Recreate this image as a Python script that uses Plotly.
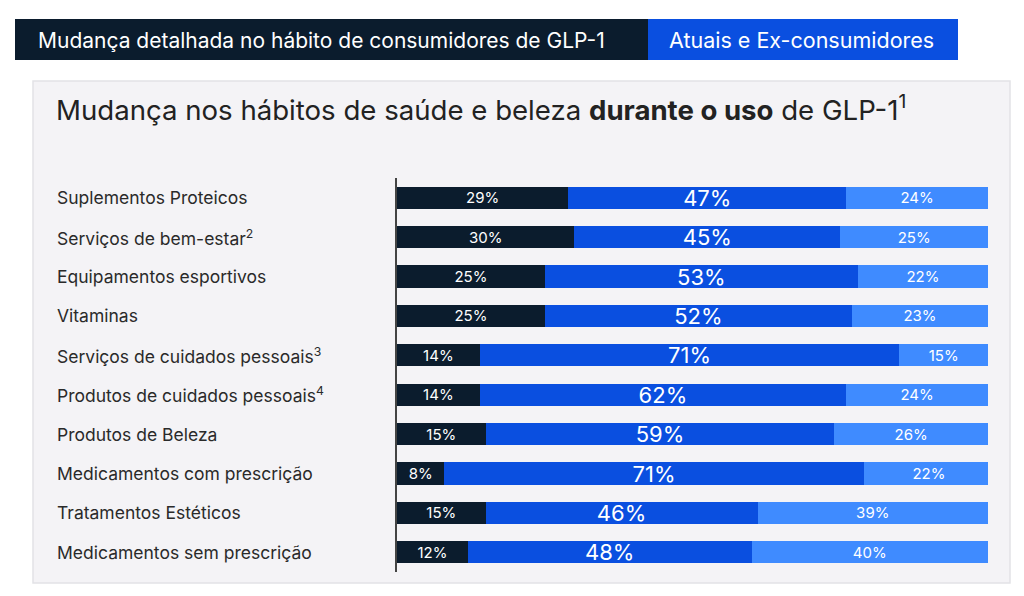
import plotly.graph_objects as go

categories = [
    "Suplementos Proteicos",
    "Serviços de bem-estar<sup>2</sup>",
    "Equipamentos esportivos",
    "Vitaminas",
    "Serviços de cuidados pessoais<sup>3</sup>",
    "Produtos de cuidados pessoais<sup>4</sup>",
    "Produtos de Beleza",
    "Medicamentos com prescrição",
    "Tratamentos Estéticos",
    "Medicamentos sem prescrição",
]
seg1 = [29, 30, 25, 25, 14, 14, 15, 8, 15, 12]
seg2 = [47, 45, 53, 52, 71, 62, 59, 71, 46, 48]
seg3 = [24, 25, 22, 23, 15, 24, 26, 22, 39, 40]
ycats = list(range(len(categories)))

W, H = 1024, 596
OFF = 8  # page body margin
FONT = "Inter, Noto Sans, sans-serif"

def px_x(p):
    return (p - OFF) / W

def px_y(p):
    return 1 - (p - OFF) / H

fig = go.Figure()
colors = ["#0b1c2d", "#0a4fe0", "#3f8bff"]
sizes = [15, 22, 15]
for vals, col, sz in zip([seg1, seg2, seg3], colors, sizes):
    fig.add_trace(go.Bar(
        y=ycats, x=vals, orientation="h",
        marker=dict(color=col, line=dict(width=0)),
        width=0.56,
        text=[f"{v}%" for v in vals],
        textposition="inside", insidetextanchor="middle",
        textfont=dict(color="white", size=sz, family=FONT),
        constraintext="none",
        hoverinfo="skip",
    ))

fig.update_layout(
    barmode="stack",
    width=W, height=H,
    margin=dict(l=0, r=0, t=0, b=0),
    paper_bgcolor="white",
    plot_bgcolor="#f4f3f6",
    showlegend=False,
    font=dict(family=FONT),
    xaxis=dict(domain=[px_x(397), px_x(988)], range=[0, 100], visible=False,
               fixedrange=True),
    yaxis=dict(domain=[px_y(572), px_y(178)], range=[9.5, -0.5],
               showticklabels=False, showgrid=False, zeroline=False,
               showline=True, linecolor="#444", linewidth=1.5),
    shapes=[
        dict(type="rect", xref="paper", yref="paper", layer="below",
             x0=px_x(33), x1=px_x(1010), y0=px_y(583), y1=px_y(81),
             fillcolor="#f4f3f6", line=dict(color="#e2e2e6", width=1.5)),
        dict(type="rect", xref="paper", yref="paper",
             x0=px_x(15), x1=px_x(648), y0=px_y(60), y1=px_y(19),
             fillcolor="#0b1c2d", line=dict(width=0)),
        dict(type="rect", xref="paper", yref="paper",
             x0=px_x(648), x1=px_x(958), y0=px_y(60), y1=px_y(19),
             fillcolor="#0a4fe0", line=dict(width=0)),
    ],
)

annotations = [
    dict(text="Mudança detalhada no hábito de consumidores de GLP-1",
         xref="paper", yref="paper", x=px_x(36), y=px_y(40),
         xanchor="left", yanchor="middle", showarrow=False,
         font=dict(color="white", size=21, family=FONT)),
    dict(text="Atuais e Ex-consumidores",
         xref="paper", yref="paper", x=px_x(667), y=px_y(40),
         xanchor="left", yanchor="middle", showarrow=False,
         font=dict(color="white", size=21.5, family=FONT)),
    dict(text="Mudança nos hábitos de saúde e beleza <b>durante o uso</b> de GLP-1<sup>1</sup>",
         xref="paper", yref="paper", x=px_x(54), y=px_y(108),
         xanchor="left", yanchor="middle", showarrow=False,
         font=dict(color="#222", size=27.6, family=FONT)),
]
for yc, cat in zip(ycats, categories):
    annotations.append(dict(
        text=cat, xref="paper", yref="y", x=px_x(55), y=yc,
        xanchor="left", yanchor="middle", showarrow=False,
        font=dict(color="#2a2a2a", size=17.5, family=FONT)))
fig.update_layout(annotations=annotations)

fig.write_html("out.html")
